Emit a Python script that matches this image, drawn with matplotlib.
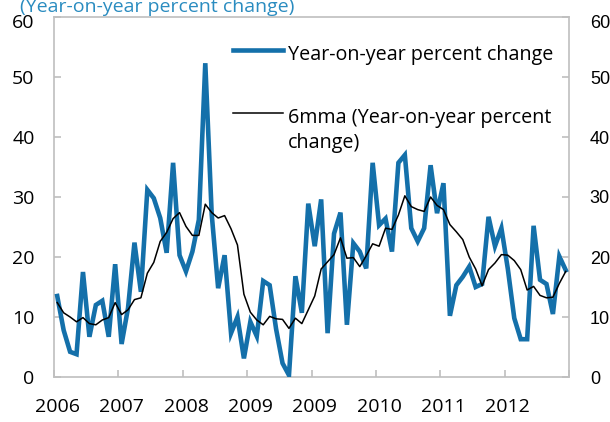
import numpy as np
import matplotlib
matplotlib.use("Agg")
import matplotlib.pyplot as plt
import matplotlib.transforms as mtransforms
from matplotlib.lines import Line2D

# monthly values
yoy = [13.5, 7.8, 4.2, 3.8, 17.5, 6.7, 12.0, 12.7, 6.7, 18.8,
       5.5, 11.5, 22.4, 14.2, 31.2, 29.8, 26.5, 20.7, 35.7, 20.3,
       17.6, 20.9, 26.2, 52.3, 27.1, 14.8, 20.3, 7.3, 10.0, 3.1,
       9.2, 6.8, 16.0, 15.3, 8.0, 2.3, 0.3, 16.8, 10.7, 28.9,
       21.8, 29.6, 7.3, 23.9, 27.4, 8.7, 22.3, 20.9, 18.1, 35.7,
       25.3, 26.4, 20.9, 35.7, 37.0, 24.8, 22.6, 24.8, 35.3, 27.3,
       32.3, 10.2, 15.3, 16.7, 18.4, 15.0, 15.5, 26.7, 21.8, 24.8,
       18.0, 9.8, 6.3, 6.3, 25.2, 16.2, 15.5, 10.5, 20.1, 17.8]

mma6 = [12.4, 10.7, 10.0, 9.2, 9.9, 8.9, 8.7, 9.5, 9.9, 12.4,
        10.4, 11.2, 12.9, 13.2, 17.3, 19.1, 22.6, 24.1, 26.4, 27.4,
        25.1, 23.6, 23.6, 28.8, 27.4, 26.5, 26.9, 24.7, 22.0, 13.8,
        10.8, 9.5, 8.7, 10.1, 9.7, 9.6, 8.1, 9.8, 8.9, 11.2,
        13.5, 18.0, 19.2, 20.4, 23.2, 19.8, 19.9, 18.4, 20.2, 22.2,
        21.8, 24.8, 24.6, 27.0, 30.2, 28.4, 27.9, 27.6, 30.0, 28.6,
        27.9, 25.4, 24.2, 22.9, 20.0, 18.0, 15.2, 17.9, 19.0, 20.4,
        20.3, 19.4, 17.9, 14.5, 15.1, 13.6, 13.2, 13.3, 15.6, 17.6]

# every 10th month carries a label (as printed on the original)
year_labels = ["2006", "2007", "2008", "2009", "2009", "2010", "2011", "2012"]
label_every = 10

BLUE = "#1470aa"
GREY = "#bfbfbf"
TITLE_C = "#2a8cc0"

fig = plt.figure(figsize=(6.1, 4.22), dpi=100)
W, H = 610, 422
L, R, T, B = 54, 569, 17, 377
ax = fig.add_axes([L / W, 1 - B / H, (R - L) / W, (B - T) / H])

n = len(yoy)
x = np.arange(n) + 0.5
ax.plot(x, yoy, color=BLUE, lw=3.3, solid_joinstyle="miter", zorder=3)
ax.plot(x, mma6, color="black", lw=1.1, zorder=4)

ax.set_xlim(0, n)
ax.set_ylim(0, 60)
ax.set_yticks(range(0, 61, 10))

ax.set_xticks(np.arange(0, n + 1, label_every))
ax.set_xticklabels([])
ax.set_xticks(np.arange(len(year_labels)) * label_every + 0.5, minor=True)
ax.set_xticklabels(year_labels, minor=True)

for s in ax.spines.values():
    s.set_color(GREY)
    s.set_linewidth(1.2)

ax.tick_params(axis="x", which="major", direction="in", length=5, width=1.2, color=GREY)
ax.tick_params(axis="x", which="minor", length=0, pad=15, labelsize=14)
ax.tick_params(axis="y", direction="in", length=5, width=1.2, color=GREY,
               pad=14, labelsize=14)
for lab in ax.get_xticklabels(minor=True) + ax.get_yticklabels():
    lab.set_family("Open Sans")

ax2 = ax.twinx()
ax2.set_ylim(0, 60)
ax2.set_yticks(range(0, 61, 10))
ax2.tick_params(axis="y", direction="in", length=5, width=1.2, color=GREY,
                pad=15, labelsize=13)
for lab in ax2.get_yticklabels():
    lab.set_family("Liberation Sans")
for s in ax2.spines.values():
    s.set_visible(False)

# the top "60" labels sit a little lower on the original
shift = mtransforms.ScaledTranslation(0, -4 / 100, fig.dpi_scale_trans)
for a in (ax, ax2):
    top = a.yaxis.get_major_ticks()[-1]
    for lab in (top.label1, top.label2):
        lab.set_transform(lab.get_transform() + shift)

# legend, drawn by hand (no frame, wrapped second entry like the original)
def px(xp, yp):
    return ((xp - L) / (R - L), (B - yp) / (B - T))

x0, y0 = px(233, 50)
x1, _ = px(283, 50)
ax.add_line(Line2D([x0, x1], [y0, y0], transform=ax.transAxes, color=BLUE, lw=3.3))
tx, ty = px(288, 60)
ax.text(tx, ty, "Year-on-year percent change", transform=ax.transAxes,
        family="Open Sans", fontsize=14.2, va="baseline", ha="left")

x0, y0 = px(233, 113)
ax.add_line(Line2D([x0, x1], [y0, y0], transform=ax.transAxes, color="black", lw=1.1))
tx, ty = px(288, 123)
ax.text(tx, ty, "6mma (Year-on-year percent", transform=ax.transAxes,
        family="Open Sans", fontsize=14.2, va="baseline", ha="left")
tx, ty = px(288, 148)
ax.text(tx, ty, "change)", transform=ax.transAxes,
        family="Open Sans", fontsize=14.2, va="baseline", ha="left")

# unit title, cut at the top edge as in the original
fig.text(20 / W, 1 - 12 / H, "(Year-on-year percent change)", color=TITLE_C,
         family="Open Sans", fontsize=14, va="baseline", ha="left")

fig.savefig("out.png", dpi=100)
